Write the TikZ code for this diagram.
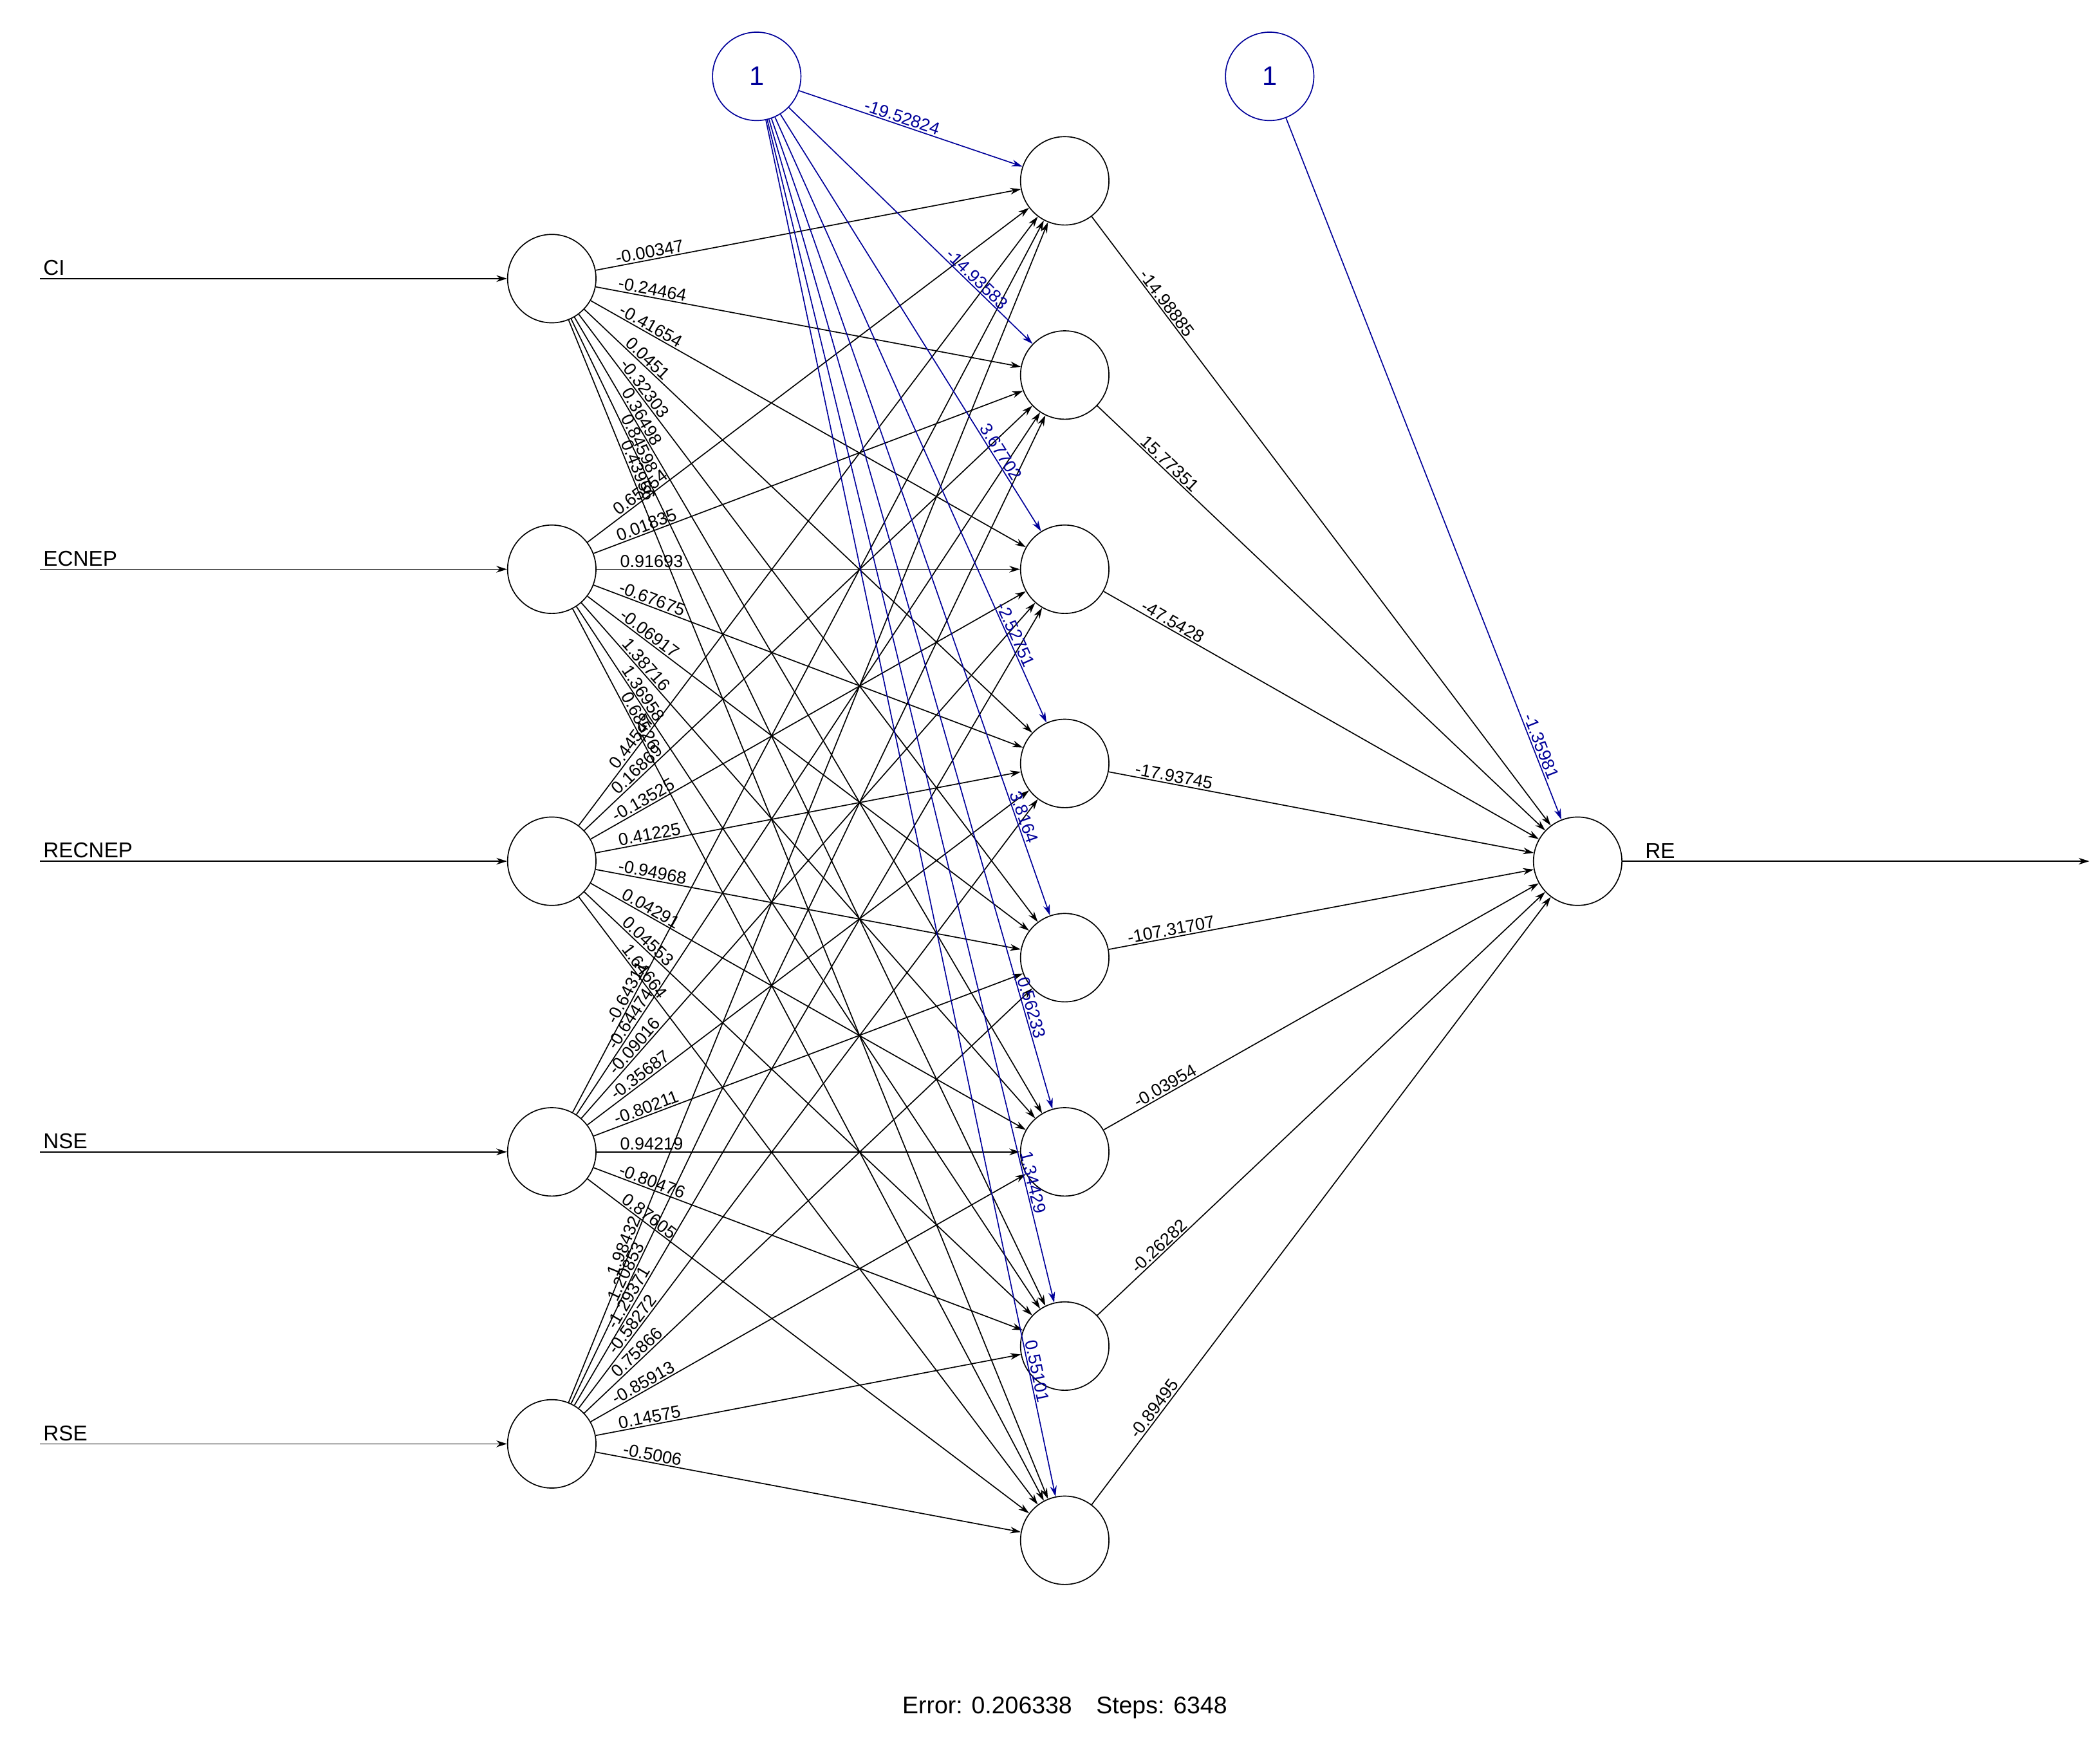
\documentclass[tikz,border=0pt]{standalone}
\usepackage{fontspec}
\setmainfont{Liberation Sans}
\usetikzlibrary{arrows.meta}
\begin{document}
\begin{tikzpicture}[x=0.5pt,y=-0.5pt,
  neuron/.style={circle,draw,minimum size=33pt,inner sep=0pt},
  bias/.style={neuron,draw=blue!60!black,text=blue!60!black},
  con/.style={-{Stealth[length=4pt,width=2.5pt]},line width=0.4pt},
  bcon/.style={con,draw=blue!60!black},
  wl/.style={font=\fontsize{6.5}{7}\selectfont,sloped,above,inner sep=0.5pt},
  bl/.style={wl,text=blue!60!black},
  lab/.style={font=\fontsize{8}{9}\selectfont,anchor=south west,inner sep=1pt}]
\useasboundingbox (0,0) rectangle (1568,1313);
% input nodes
\foreach \n/\y/\t in {1/208/CI,2/425/ECNEP,3/643/RECNEP,4/860/NSE,5/1078/RSE}{
  \node[neuron] (i\n) at (412,\y) {};
  \coordinate (s\n) at (30,\y);
  \draw[con] (s\n) -- (i\n);
  \node[lab] at (s\n) {\t};
}
% hidden nodes
\foreach \j/\y in {1/135,2/280,3/425,4/570,5/715,6/860,7/1005,8/1150}{
  \node[neuron] (h\j) at (795,\y) {};
}
\node[neuron] (o) at (1178,643) {};
\coordinate (oe) at (1560,643);
\draw[con] (o) -- (oe);
\node[lab] at (1226,643) {RE};
\node[bias] (b1) at (565,57) {1};
\node[bias] (b2) at (948,57) {1};
% input -> hidden
\foreach \i/\ws in {
 1/{-0.00347,-0.24464,-0.41654,0.0451,-0.32303,0.36498,0.84598,0.43956},
 2/{0.65654,0.01835,0.91693,-0.67675,-0.06917,1.38716,1.36958,0.68526},
 3/{0.44547,0.16869,-0.13525,0.41225,-0.94968,0.04291,0.04553,1.64664},
 4/{-0.64311,-0.64474,-0.09016,-0.35687,-0.80211,0.94219,-0.80476,0.87605},
 5/{1.98432,1.20853,-1.29371,-0.58272,0.75866,-0.85913,0.14575,-0.5006}}{
  \foreach \w [count=\j] in \ws {
    \draw[con] (i\i) -- node[wl,pos=0.13] {\w} (h\j);
  }
}
% bias -> hidden
\foreach \w/\p [count=\j] in {-19.52824/0.45,-14.93583/0.75,3.67702/0.82,-2.52751/0.86,3.8164/0.88,0.56233/0.9,1.34429/0.9,0.55101/0.91}{
  \draw[bcon] (b1) -- node[bl,pos=\p] {\w} (h\j);
}
% hidden -> output
\foreach \w [count=\j] in {-14.98885,15.77351,-47.5428,-17.93745,-107.31707,-0.03954,-0.26282,-0.89495}{
  \draw[con] (h\j) -- node[wl,pos=0.15] {\w} (o);
}
\draw[bcon] (b2) -- node[bl,pos=0.9] {-1.35981} (o);
\node[font=\fontsize{9}{10}\selectfont] (err) at (795,1275) {Error: 0.206338\quad Steps: 6348};
\end{tikzpicture}
\end{document}
